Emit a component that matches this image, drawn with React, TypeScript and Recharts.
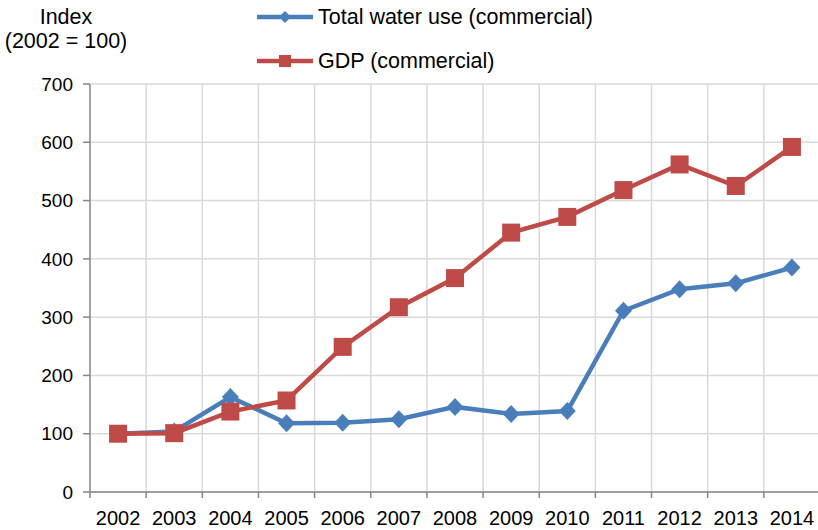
import { LineChart, Line, XAxis, YAxis, CartesianGrid, Legend } from 'recharts';

const years = ['2002', '2003', '2004', '2005', '2006', '2007', '2008', '2009', '2010', '2011', '2012', '2013', '2014'];
const waterUse = [100, 104, 163, 118, 119, 125, 146, 134, 139, 311, 348, 358, 385];
const gdp = [100, 101, 138, 157, 249, 317, 367, 445, 472, 518, 562, 525, 592];
const yTicks = [0, 100, 200, 300, 400, 500, 600, 700];

const BLUE = '#4A7EBB';
const RED = '#BE4B48';
const FONT = 'Arial, "Liberation Sans", sans-serif';

const data = years.map((year, i) => ({ year, water: waterUse[i], gdp: gdp[i] }));

const Diamond = ({ cx, cy }: any) => {
  if (cx == null || cy == null) return null;
  return <path d={`M${cx},${cy - 9}L${cx + 8.5},${cy}L${cx},${cy + 9}L${cx - 8.5},${cy}Z`} fill={BLUE} />;
};

const Square = ({ cx, cy }: any) => {
  if (cx == null || cy == null) return null;
  return <rect x={cx - 9} y={cy - 9} width={18} height={18} fill={RED} />;
};

// year label in the middle of the band, tick marks on the band edges
const YearTick = ({ x, y, payload, index }: any) => {
  const half = payload?.offset || 28.1;
  const last = index === years.length - 1;
  return (
    <g>
      <line x1={x - half} x2={x - half} y1={y - 8} y2={y - 2} stroke="#868686" strokeWidth={1.5} />
      {last && <line x1={x + half} x2={x + half} y1={y - 8} y2={y - 2} stroke="#868686" strokeWidth={1.5} />}
      <text x={x} y={y + 25} textAnchor="middle" fontSize={20} fontFamily={FONT} fill="#000">
        {payload.value}
      </text>
    </g>
  );
};

const LegendBox = () => (
  <div style={{ fontFamily: FONT, fontSize: 21.5, color: '#000', lineHeight: '24px' }}>
    <div style={{ display: 'flex', alignItems: 'center', height: 24 }}>
      <svg width={62} height={22}>
        <line x1={1} x2={57} y1={11} y2={11} stroke={BLUE} strokeWidth={4.5} />
        <path d="M29,5L35,11L29,17L23,11Z" fill={BLUE} />
      </svg>
      <span>Total water use (commercial)</span>
    </div>
    <div style={{ display: 'flex', alignItems: 'center', height: 24, marginTop: 20 }}>
      <svg width={62} height={22}>
        <line x1={1} x2={57} y1={11} y2={11} stroke={RED} strokeWidth={4.5} />
        <rect x={23} y={5} width={12} height={12} fill={RED} />
      </svg>
      <span>GDP (commercial)</span>
    </div>
  </div>
);

export default function App() {
  return (
    <div style={{ position: 'absolute', left: 0, top: 0, width: 818, height: 530, overflow: 'hidden', background: '#fff' }}>
      <div style={{ position: 'absolute', left: 0, top: 5, width: 132, textAlign: 'center', fontFamily: FONT, fontSize: 21.5, lineHeight: '24px' }}>
        Index
        <br />
        (2002 = 100)
      </div>
      <LineChart width={822} height={530} data={data} margin={{ top: 84, right: 2, left: 0, bottom: 0 }}>
        <CartesianGrid
          stroke="#D9D9D9"
          strokeWidth={1.5}
          verticalCoordinatesGenerator={({ offset }: any) =>
            years.map((_, i) => offset.left + ((i + 1) * offset.width) / years.length)
          }
        />
        <XAxis
          dataKey="year"
          scale="band"
          height={38}
          axisLine={{ stroke: '#868686', strokeWidth: 1.5 }}
          tickLine={false}
          tickSize={6}
          tick={<YearTick />}
          interval={0}
        />
        <YAxis
          width={90}
          domain={[0, 700]}
          ticks={yTicks}
          interval={0}
          axisLine={{ stroke: '#868686', strokeWidth: 1.5 }}
          tickLine={{ stroke: '#868686', strokeWidth: 1.5 }}
          tickSize={7}
          tickMargin={10}
          tick={{ fill: '#000', fontSize: 19, fontFamily: FONT }}
        />
        <Legend
          layout="vertical"
          align="center"
          verticalAlign="middle"
          wrapperStyle={{ position: 'absolute', top: 5, left: 256, width: 380 }}
          content={() => <LegendBox />}
        />
        <Line
          type="linear"
          dataKey="water"
          name="Total water use (commercial)"
          stroke={BLUE}
          strokeWidth={4.5}
          dot={<Diamond />}
          activeDot={false}
          isAnimationActive={false}
        />
        <Line
          type="linear"
          dataKey="gdp"
          name="GDP (commercial)"
          stroke={RED}
          strokeWidth={4.5}
          dot={<Square />}
          activeDot={false}
          isAnimationActive={false}
        />
      </LineChart>
    </div>
  );
}
